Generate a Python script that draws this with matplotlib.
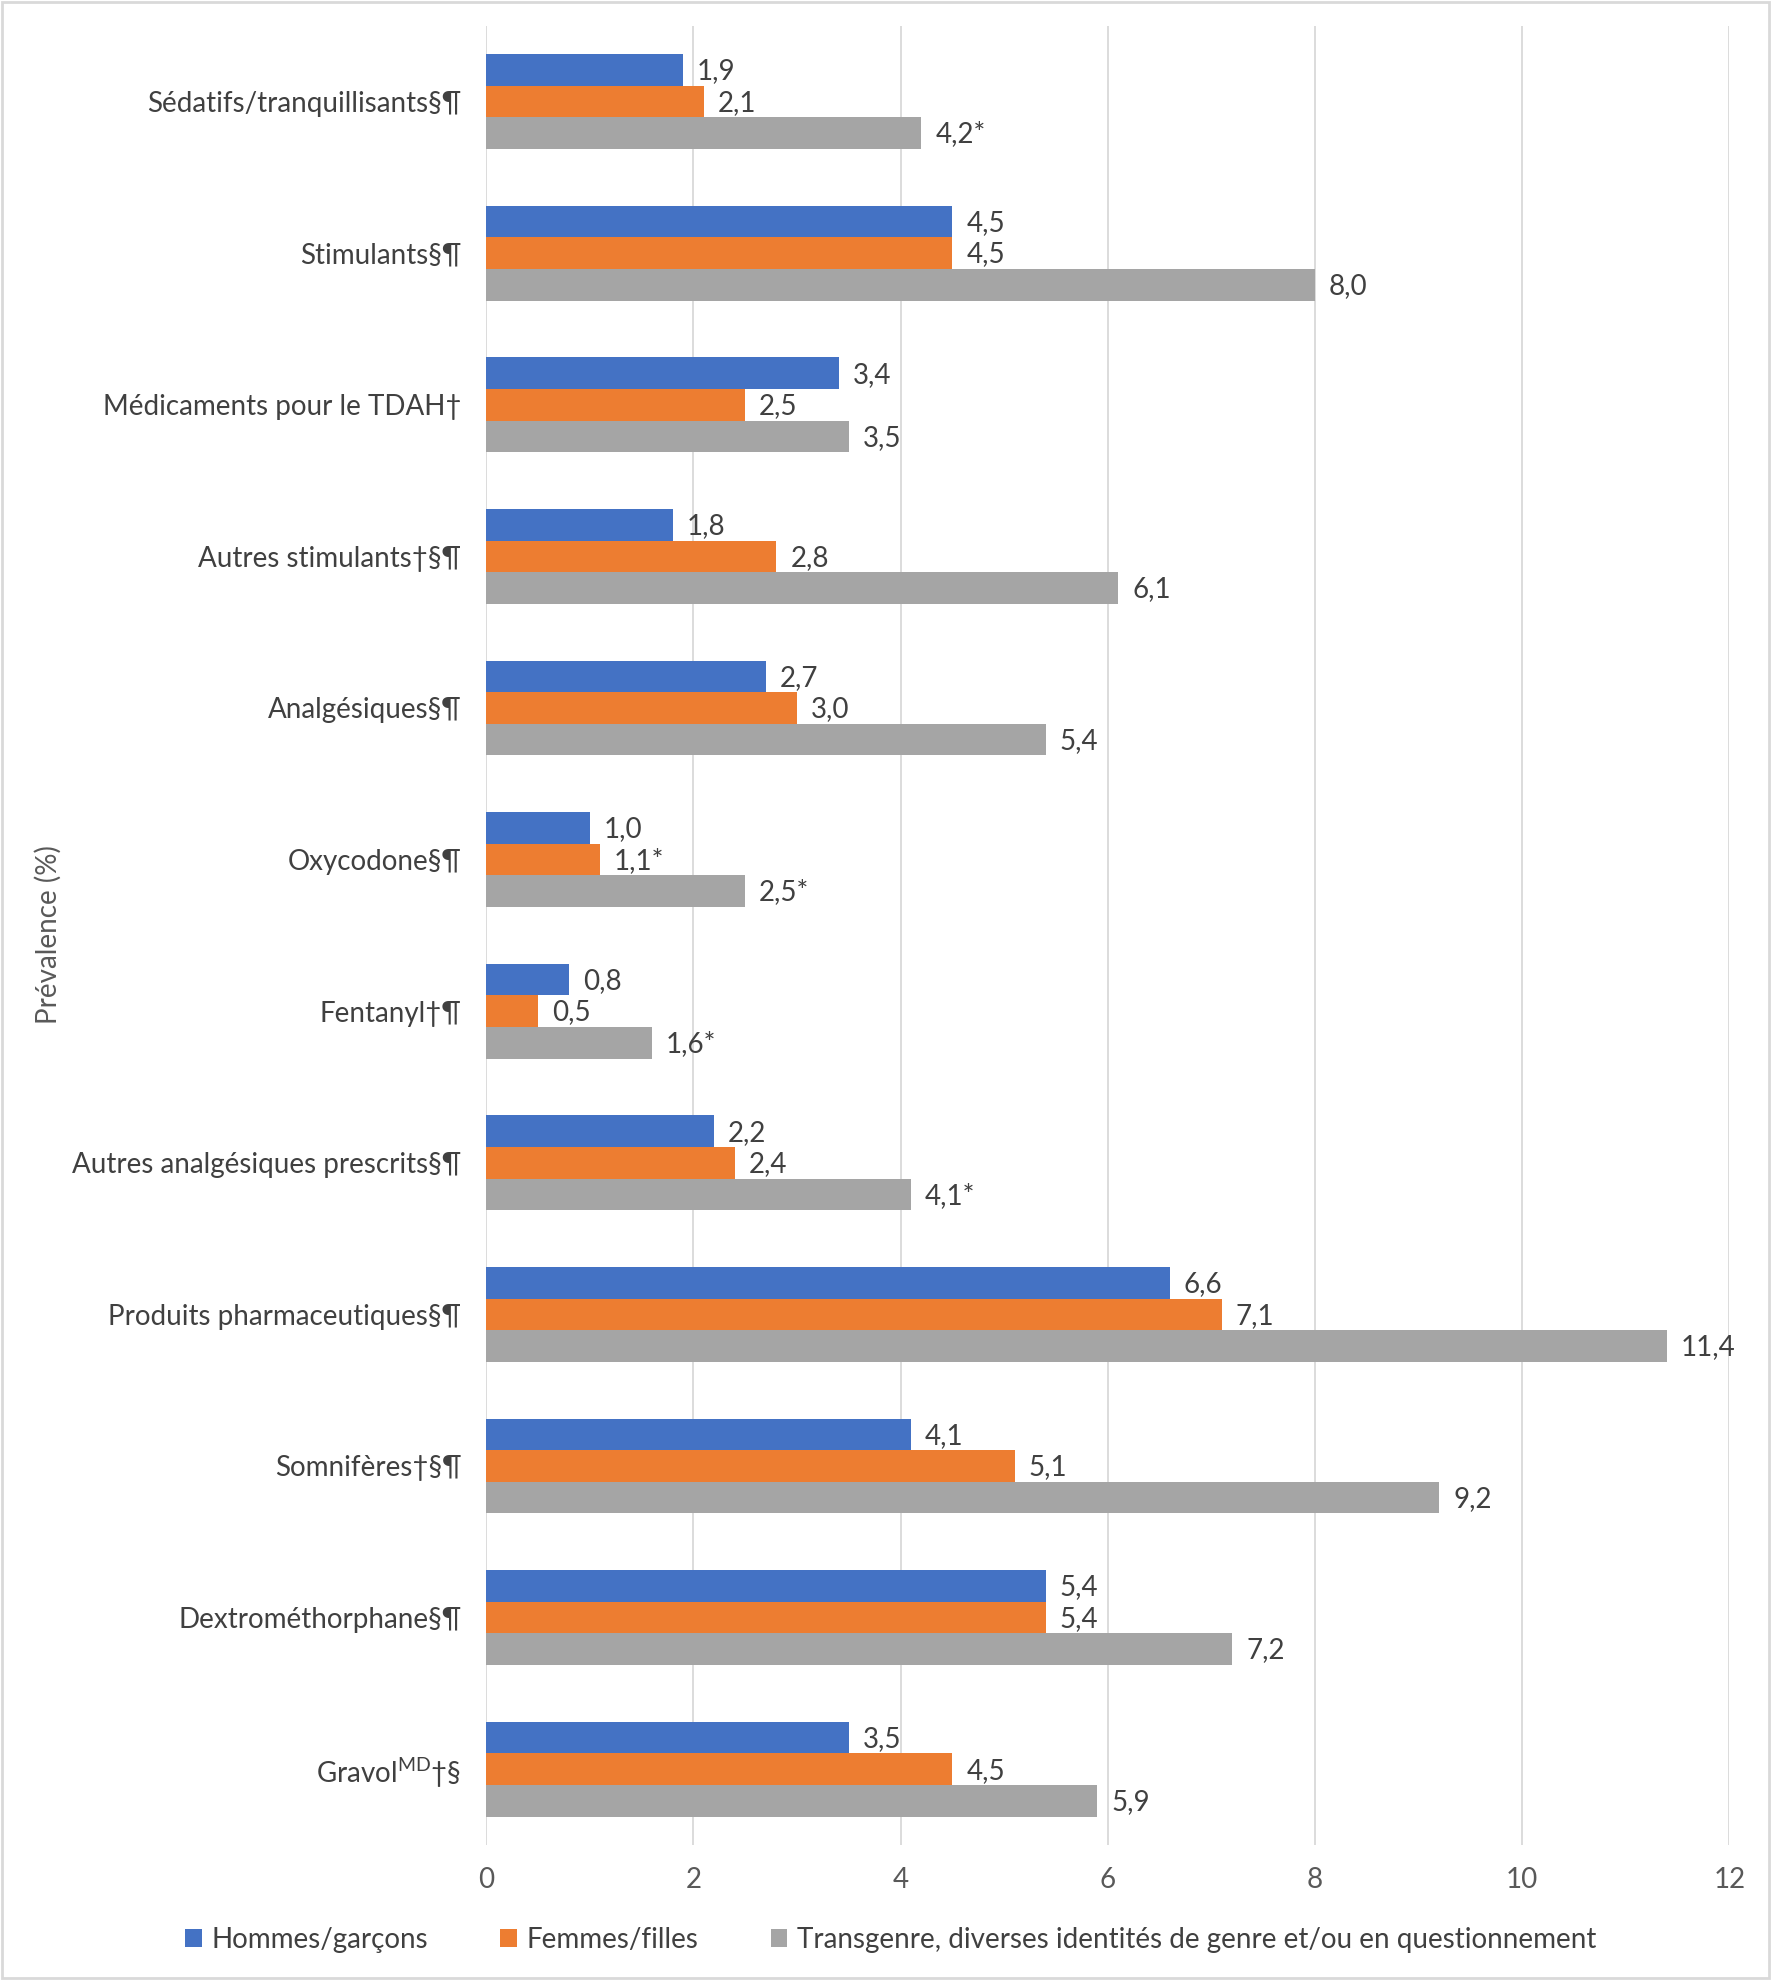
import matplotlib.pyplot as plt
import numpy as np

plt.rcParams['font.family'] = ['Lato', 'DejaVu Sans']

categories = [
    'Sédatifs/tranquillisants§¶',
    'Stimulants§¶',
    'Médicaments pour le TDAH†',
    'Autres stimulants†§¶',
    'Analgésiques§¶',
    'Oxycodone§¶',
    'Fentanyl†¶',
    'Autres analgésiques prescrits§¶',
    'Produits pharmaceutiques§¶',
    'Somnifères†§¶',
    'Dextrométhorphane§¶',
    'Gravol$^{\\mathregular{MD}}$†§',
]

hommes = [1.9, 4.5, 3.4, 1.8, 2.7, 1.0, 0.8, 2.2, 6.6, 4.1, 5.4, 3.5]
femmes = [2.1, 4.5, 2.5, 2.8, 3.0, 1.1, 0.5, 2.4, 7.1, 5.1, 5.4, 4.5]
trans = [4.2, 8.0, 3.5, 6.1, 5.4, 2.5, 1.6, 4.1, 11.4, 9.2, 7.2, 5.9]

# astérisque = estimation à interpréter avec prudence
hommes_star = [False] * 12
femmes_star = [False, False, False, False, False, True, False, False, False, False, False, False]
trans_star = [True, False, False, False, False, True, True, True, False, False, False, False]

series = ['Hommes/garçons', 'Femmes/filles',
          'Transgenre, diverses identités de genre et/ou en questionnement']
couleurs = ['#4472C4', '#ED7D31', '#A5A5A5']

fig = plt.figure(figsize=(17.71, 19.80), dpi=100)
ax = fig.add_axes([0.2746, 0.0682, 0.7019, 0.9188])

y = np.arange(len(categories))
h = 0.2083
txt = '#404040'
fs = 20

for i, (vals, stars, col, lab) in enumerate(zip([hommes, femmes, trans],
                                                 [hommes_star, femmes_star, trans_star],
                                                 couleurs, series)):
    pos = y + (i - 1) * h
    ax.barh(pos, vals, height=h, color=col, label=lab, zorder=3)
    for p, v, s in zip(pos, vals, stars):
        t = f'{v:.1f}'.replace('.', ',') + ('*' if s else '')
        ax.annotate(t, (v, p), xytext=(10, -1), textcoords='offset points',
                    va='center', ha='left', fontsize=fs, color=txt)

ax.set_yticks(y)
ax.set_yticklabels(categories, fontsize=fs, color=txt)
ax.set_ylim(len(categories) - 0.5, -0.5)
ax.set_xlim(0, 12)
ax.set_xticks(range(0, 13, 2))
ax.tick_params(axis='x', labelsize=fs, labelcolor='#595959', length=0, pad=16)
ax.tick_params(axis='y', length=0, pad=18)
ax.grid(axis='x', color='#D9D9D9', linewidth=1.3, zorder=0)
for s in ax.spines.values():
    s.set_visible(False)

fig.text(0.027, 0.528, 'Prévalence (%)', rotation=90, va='center', ha='center',
         fontsize=fs, color='#595959')

fig.legend(loc='center', bbox_to_anchor=(0.503, 0.0204), ncol=3, frameon=False,
           fontsize=fs, handlelength=0.6, handleheight=0.6, handletextpad=0.35,
           columnspacing=2.6, labelcolor=txt)

fig.patches.append(plt.Rectangle((0.001, 0.001), 0.998, 0.998, transform=fig.transFigure,
                                 fill=False, edgecolor='#D9D9D9', linewidth=2))

plt.savefig('out.png', dpi=100)
